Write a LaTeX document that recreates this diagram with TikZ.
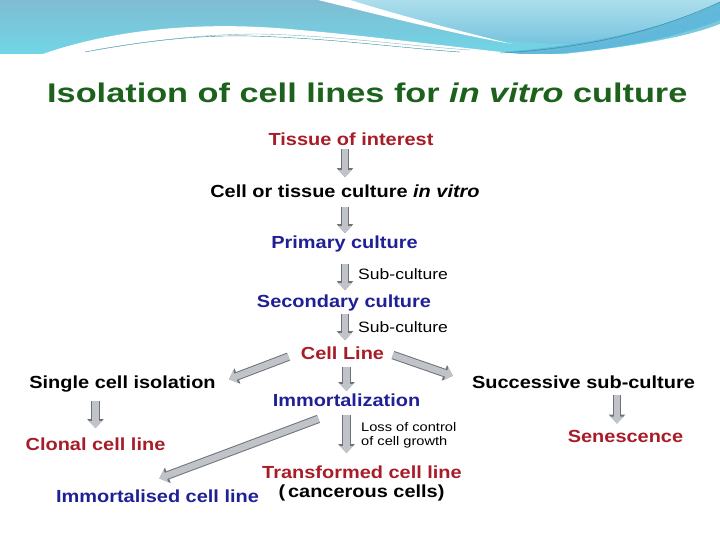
\documentclass[tikz,border=0pt]{standalone}
\usepackage{fontspec}
\setmainfont{Liberation Sans}[FakeStretch=1.14]
\newfontfamily\titlefont{Liberation Sans}[FakeStretch=1.27]
\newfontfamily\notefont{Liberation Sans}[FakeStretch=1.17]
\usetikzlibrary{arrows.meta}

\definecolor{ttlgreen}{RGB}{28,98,28}
\definecolor{txtred}{RGB}{168,28,40}
\definecolor{txtblue}{RGB}{32,32,150}
\definecolor{arrfill}{RGB}{192,196,201}
\definecolor{arredge}{RGB}{110,115,122}
\definecolor{hdrtop}{RGB}{128,188,210}
\definecolor{hdrbot}{RGB}{112,214,230}
\definecolor{hdrlight}{RGB}{172,222,236}
\definecolor{hdrmid}{RGB}{96,184,218}
\definecolor{hdrline}{RGB}{40,140,160}

\tikzset{
  lbl/.style={font=\bfseries\fontsize{17.5}{20}\selectfont, inner sep=2pt, anchor=base},
  note/.style={font=\notefont\fontsize{15}{17}\selectfont, inner sep=0pt, anchor=base west},
  fatarr/.style={draw=arrfill, line width=6.5pt, -{Triangle[width=13pt,length=7pt]},
    preaction={draw=arredge, line width=8.5pt, -{Triangle[width=16pt,length=9pt]}}}
}

\begin{document}
\begin{tikzpicture}[x=1pt, y=-1pt]
	\useasboundingbox (0,0) rectangle (720,540);
	% header band
	\shade[top color=hdrtop, bottom color=hdrbot] (0,0) rectangle (720,54);
	\shade[top color=hdrlight, bottom color=hdrmid!70!hdrlight] (330,0) .. controls (420,30) and (500,42) .. (560,44) .. controls (620,44) and (680,25) .. (720,4) -- (720,0) -- cycle;
	\fill[white] (318,0) .. controls (400,20) and (460,35) .. (512,44) .. controls (455,30) and (395,14) .. (350,0) -- cycle;
	\fill[hdrmid] (470,54) .. controls (600,48) and (680,22) .. (720,2) -- (720,20) .. controls (680,36) and (620,50) .. (550,54) -- cycle;
	\fill[white] (40,55) .. controls (110,30) and (200,20) .. (300,30) .. controls (380,37) and (460,48) .. (530,55) -- cycle;
	\fill[white] (555,55) .. controls (640,46) and (690,36) .. (720,24) -- (720,55) -- cycle;
	\fill[white] (0,54) rectangle (720,60);
	\draw[hdrline, thin] (85,52) .. controls (150,40) and (200,35) .. (250,36) .. controls (330,38) and (400,48) .. (460,52);
	\draw[hdrline!60, thin] (95,50) .. controls (160,39) and (210,34) .. (260,34) .. controls (340,36) and (410,46) .. (470,50);
	\draw[hdrline, thin] (500,53) .. controls (600,48) and (670,25) .. (720,2);
	\draw[hdrline!60, thin] (520,53) .. controls (620,46) and (680,22) .. (720,8);

	% title
	\node[anchor=base west, inner sep=0pt, ttlgreen, font=\titlefont\bfseries\fontsize{27}{32}\selectfont] (title) at (47,103) {Isolation of cell lines for \textit{in vitro} culture};

	% main column
	\node[lbl, txtred] (tissue) at (351,146) {Tissue of interest};
	\node[lbl] (invitro) at (345,197) {Cell or tissue culture \textit{in vitro}};
	\node[lbl, txtblue] (primary) at (344.5,248) {Primary culture};
	\node[lbl, txtblue] (secondary) at (344,307) {Secondary culture};
	\node[lbl, txtred] (cellline) at (342.5,359) {Cell Line};
	\node[lbl, txtblue] (immortal) at (346.5,406) {Immortalization};
	\node[lbl, txtred] (transformed) at (362,478) {Transformed cell line};
	\node[lbl] (cancerous) at (361.5,497) {(\,cancerous cells)};

	% side branches
	\node[lbl] (single) at (122.5,388) {Single cell isolation};
	\node[lbl, txtred] (clonal) at (95.5,450) {Clonal cell line};
	\node[lbl, txtblue] (immortalised) at (157.5,502) {Immortalised cell line};
	\node[lbl] (successive) at (583.5,388) {Successive sub-culture};
	\node[lbl, txtred] (senescence) at (625.5,442) {Senescence};

	% arrow notes
	\node[note] (sub1) at (358,279) {Sub-culture};
	\node[note] (sub2) at (358,332) {Sub-culture};
	\node[anchor=north west, inner sep=0pt, align=left, font=\notefont\fontsize{12.5}{14}\selectfont] (loss) at (361,422) {Loss of control\\of cell growth};

	% arrows
	\draw[fatarr, shorten <=1pt, shorten >=5pt] (tissue.south -| invitro) -- (invitro.north);
	\draw[fatarr, shorten <=8pt] (invitro.south) -- (invitro.south |- primary.north);
	\draw[fatarr, shorten <=10pt, shorten >=2pt] (primary.south -| invitro) -- (invitro |- secondary.north);
	\draw[fatarr, shorten <=1pt, shorten >=4pt] (secondary.south -| invitro) -- (invitro |- cellline.north);
	\draw[fatarr, shorten <=6pt] (cellline.south -| immortal) -- (immortal.north);
	\draw[fatarr, shorten <=7pt, shorten >=10pt] (immortal.south) -- (immortal |- transformed.north);
	\draw[fatarr, shorten <=7pt, shorten >=7pt] (single.south -| clonal) -- (clonal.north);
	\draw[fatarr, shorten <=5pt, shorten >=4pt] (successive.south -| 617,0) -- (senescence.north -| 617,0);
	\draw[fatarr, shorten <=11pt, shorten >=12pt] (cellline.west) -- (single.east);
	\draw[fatarr, shorten <=7pt, shorten >=18pt] (cellline.east) -- (successive.west);
	\draw[fatarr, shorten <=30pt, shorten >=2pt] (immortal.south) -- ([yshift=8pt]immortalised.north);
\end{tikzpicture}
\end{document}
